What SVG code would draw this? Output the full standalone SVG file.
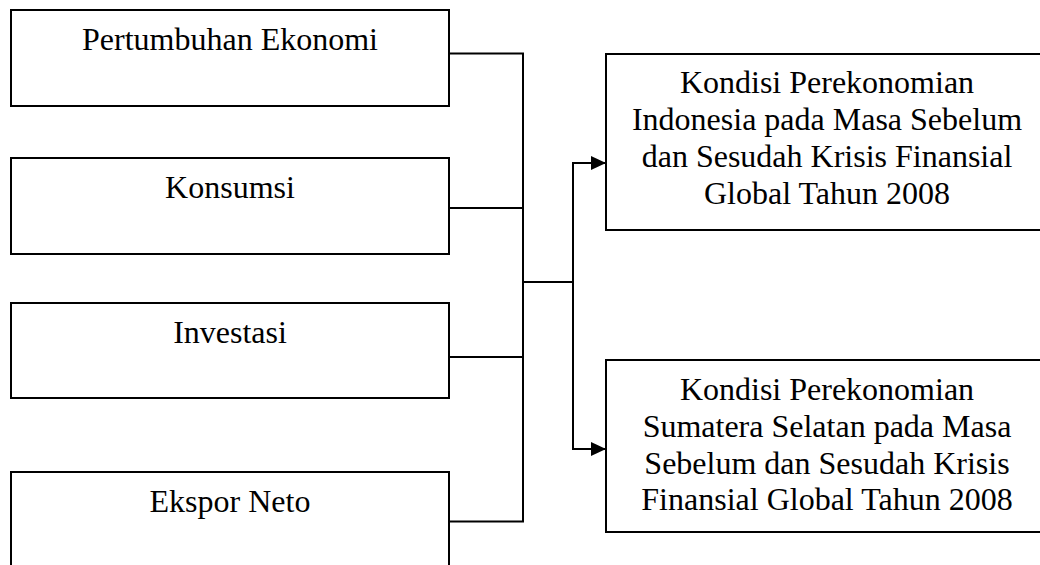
<svg xmlns="http://www.w3.org/2000/svg" width="1040" height="565" viewBox="0 0 1040 565">
  <style>
    .box { fill: #ffffff; stroke: #000000; stroke-width: 2; }
    .lbl { font-family: "Liberation Serif", "Times New Roman", serif; font-size: 32px; fill: #000000; text-anchor: middle; }
    .wire { fill: none; stroke: #000000; stroke-width: 2; }
  </style>
  <defs>
    <marker id="arrow" markerUnits="userSpaceOnUse" markerWidth="16" markerHeight="16" refX="15" refY="7" orient="auto">
      <path d="M0,0 L15,7 L0,14 z" fill="#000000"/>
    </marker>
  </defs>
  <rect width="1040" height="565" fill="#ffffff"/>

  <g id="node-pertumbuhan">
    <rect class="box" x="11" y="10" width="438" height="96"/>
    <text class="lbl" x="230" y="50">Pertumbuhan Ekonomi</text>
  </g>
  <g id="node-konsumsi">
    <rect class="box" x="11" y="158" width="438" height="96"/>
    <text class="lbl" x="230" y="198">Konsumsi</text>
  </g>
  <g id="node-investasi">
    <rect class="box" x="11" y="303" width="438" height="95"/>
    <text class="lbl" x="230" y="343">Investasi</text>
  </g>
  <g id="node-ekspor">
    <rect class="box" x="11" y="472" width="438" height="110"/>
    <text class="lbl" x="230" y="512">Ekspor Neto</text>
  </g>

  <g id="node-indonesia">
    <rect class="box" x="606" y="54" width="442" height="176"/>
    <text class="lbl" x="827" y="93">Kondisi Perekonomian</text>
    <text class="lbl" x="827" y="130">Indonesia pada Masa Sebelum</text>
    <text class="lbl" x="827" y="167">dan Sesudah Krisis Finansial</text>
    <text class="lbl" x="827" y="204">Global Tahun 2008</text>
  </g>
  <g id="node-sumsel">
    <rect class="box" x="606" y="360" width="442" height="172"/>
    <text class="lbl" x="827" y="400">Kondisi Perekonomian</text>
    <text class="lbl" x="827" y="437">Sumatera Selatan pada Masa</text>
    <text class="lbl" x="827" y="474">Sebelum dan Sesudah Krisis</text>
    <text class="lbl" x="827" y="510">Finansial Global Tahun 2008</text>
  </g>

  <g id="connectors">
    <path class="wire" d="M449,53.5 H523 V521.5 H449"/>
    <path class="wire" d="M449,208 H523"/>
    <path class="wire" d="M449,357 H523"/>
    <path class="wire" d="M523,282 H573"/>
    <path class="wire" d="M573,282 V163 H606" marker-end="url(#arrow)"/>
    <path class="wire" d="M573,282 V449 H606" marker-end="url(#arrow)"/>
  </g>
</svg>
